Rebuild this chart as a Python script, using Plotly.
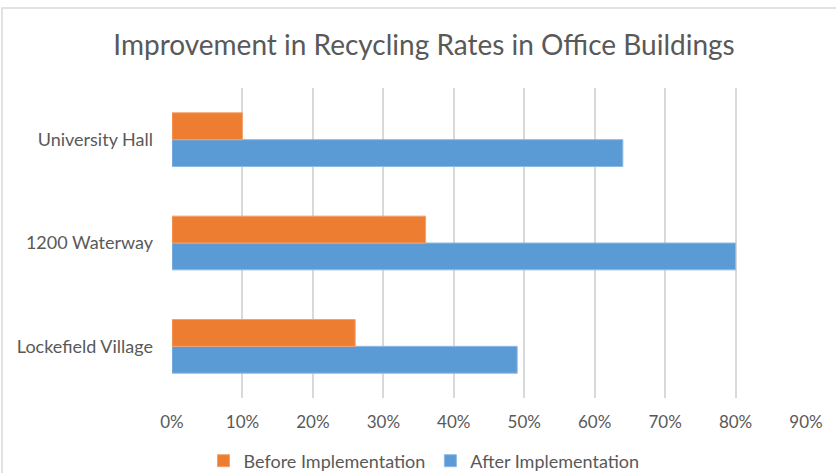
import plotly.graph_objects as go

categories = ["Lockefield Village", "1200 Waterway", "University Hall"]
before_vals = [0.26, 0.36, 0.10]
after_vals = [0.49, 0.80, 0.64]
x_ticks = [0, 0.1, 0.2, 0.3, 0.4, 0.5, 0.6, 0.7, 0.8, 0.9]
x_tick_labels = ["0%", "10%", "20%", "30%", "40%", "50%", "60%", "70%", "80%", "90%"]

FONT = "Lato"
GRAY = "#595959"

fig = go.Figure()
fig.add_trace(go.Bar(
    y=categories, x=after_vals, orientation="h", name="After Implementation",
    marker=dict(color="#5B9BD5", line=dict(color="#8DB9E3", width=1)), legendrank=2,
))
fig.add_trace(go.Bar(
    y=categories, x=before_vals, orientation="h", name="Before Implementation",
    marker=dict(color="#ED7D31", line=dict(color="#F3A26D", width=1)), legendrank=1,
))

L, R, T, B = 172, 30, 88, 75
W, H = 836, 473
pw, ph = W - L - R, H - T - B

fig.update_layout(
    width=W, height=H,
    margin=dict(l=L, r=R, t=T, b=B, autoexpand=False),
    paper_bgcolor="white", plot_bgcolor="white",
    barmode="group", bargap=0.48, bargroupgap=0,
    title=dict(text="Improvement in Recycling Rates in Office Buildings",
               x=424 / W, xanchor="center", y=1 - 45 / H, yanchor="middle",
               font=dict(family=FONT, size=28, color=GRAY)),
    font=dict(family=FONT, color=GRAY, size=18),
    legend=dict(orientation="h", x=(424 - L) / pw, xanchor="center",
                y=((H - B) - 461) / ph, yanchor="middle",
                bgcolor="rgba(0,0,0,0)",
                font=dict(family=FONT, size=18, color=GRAY), itemwidth=30,
                traceorder="normal"),
    xaxis=dict(range=[0, 0.9], tickvals=x_ticks, ticktext=x_tick_labels,
               showgrid=True, gridcolor="#D9D9D9", gridwidth=1.5, zeroline=False,
               showline=False, ticks="", ticklabelstandoff=12, automargin=False,
               tickfont=dict(family=FONT, size=17, color=GRAY)),
    yaxis=dict(showgrid=False, zeroline=False, showline=False, ticks="",
               ticklabelstandoff=18, automargin=False,
               tickfont=dict(family=FONT, size=18, color=GRAY)),
    shapes=[dict(type="rect", xref="paper", yref="paper",
                 x0=(2 - L) / pw, x1=(W + 5 - L) / pw,
                 y0=((H - B) - (H + 5)) / ph, y1=((H - B) - 8) / ph,
                 line=dict(color="#D9D9D9", width=1.5), fillcolor="rgba(0,0,0,0)",
                 layer="below")],
)

fig.write_html("out.html", config={"displayModeBar": False},
               post_script="document.body.style.margin='0';document.body.style.overflow='hidden';")
